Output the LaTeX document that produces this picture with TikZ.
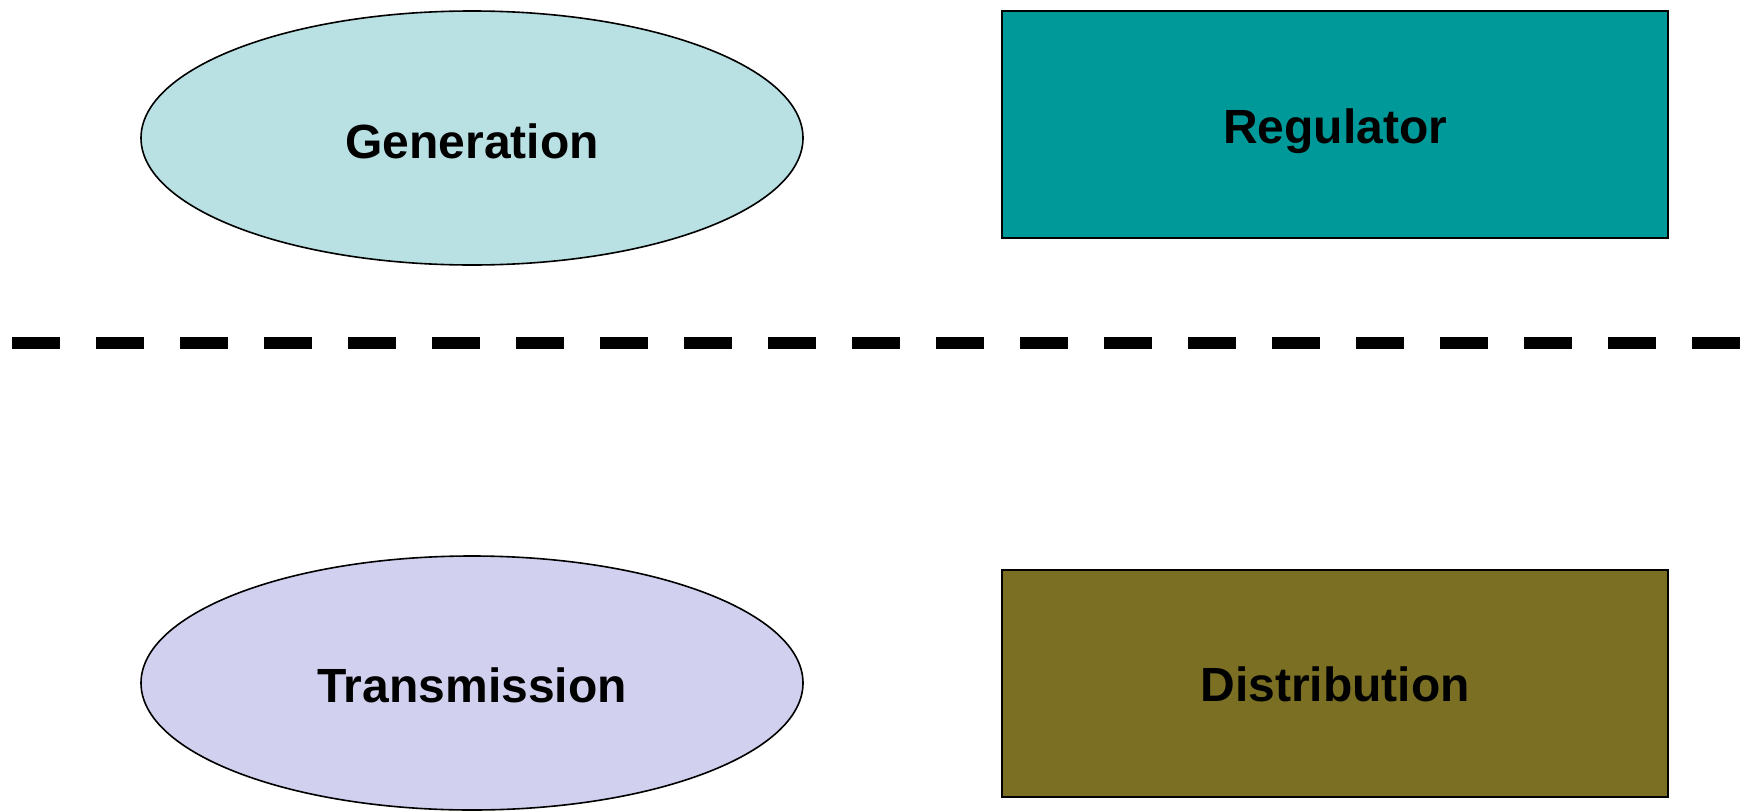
\documentclass[tikz,border=0pt]{standalone}
\usepackage{fontspec}
\setmainfont{Liberation Sans}
\usetikzlibrary{shapes.geometric}
\definecolor{genblue}{RGB}{185,224,227}
\definecolor{regteal}{RGB}{0,153,153}
\definecolor{translav}{RGB}{209,209,239}
\definecolor{distolive}{RGB}{122,111,34}
\newcommand{\lowered}[2]{\raisebox{-#1pt}[\height][\depth]{#2}}
\begin{document}
\begin{tikzpicture}[x=1pt, y=-1pt,
	oval/.style={ellipse, draw=black, line width=1.6pt, inner sep=0pt, minimum width=662pt, minimum height=254pt, font=\fontsize{48}{56}\selectfont\bfseries},
	box/.style={rectangle, draw=black, line width=1.6pt, inner sep=0pt, minimum width=666pt, minimum height=227pt, font=\fontsize{48}{56}\selectfont\bfseries}]
	\useasboundingbox (0,0) rectangle (1756,811);
	\node[oval, fill=genblue] (gen) at (472, 138) {\lowered{3}{Generation}};
	\node[box, fill=regteal] (reg) at (1335, 124.5) {\lowered{7}{Regulator}};
	\node[oval, fill=translav] (trans) at (472, 683) {\lowered{2}{Transmission}};
	\node[box, fill=distolive] (dist) at (1335, 683.5) {\lowered{1}{Distribution}};
	\coordinate (sepl) at (12, 343);
	\coordinate (sepr) at (1740, 343);
	\draw[black, line width=12pt, dash pattern=on 48pt off 36pt] (sepl) -- (sepr);
\end{tikzpicture}
\end{document}
